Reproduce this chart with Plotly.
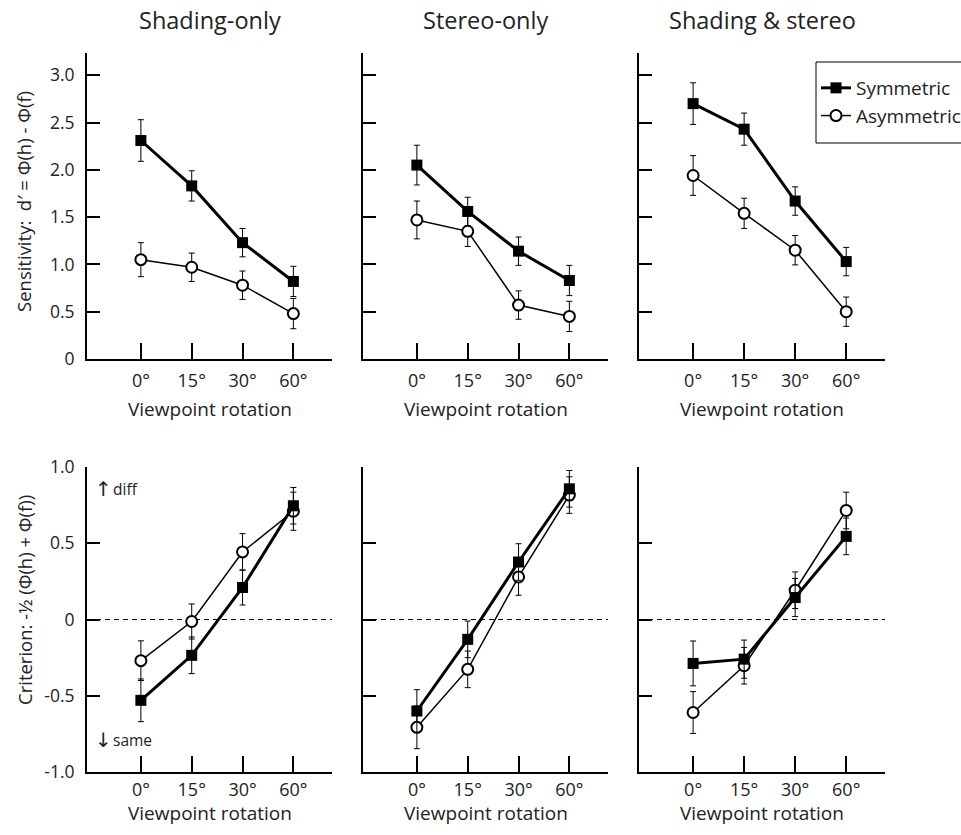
import plotly.graph_objects as go

# ---- data -------------------------------------------------------------
rotations = ["0°", "15°", "30°", "60°"]
conditions = ["Shading-only", "Stereo-only", "Shading & stereo"]

# Sensitivity d'
dprime_sym_shading = [2.31, 1.83, 1.23, 0.82]
dprime_sym_shading_err = [0.22, 0.16, 0.15, 0.16]
dprime_sym_stereo = [2.05, 1.56, 1.14, 0.83]
dprime_sym_stereo_err = [0.21, 0.15, 0.15, 0.16]
dprime_sym_both = [2.70, 2.43, 1.67, 1.03]
dprime_sym_both_err = [0.22, 0.17, 0.15, 0.15]

dprime_asym_shading = [1.05, 0.97, 0.78, 0.48]
dprime_asym_shading_err = [0.18, 0.15, 0.15, 0.16]
dprime_asym_stereo = [1.47, 1.35, 0.57, 0.45]
dprime_asym_stereo_err = [0.20, 0.16, 0.15, 0.16]
dprime_asym_both = [1.94, 1.54, 1.15, 0.50]
dprime_asym_both_err = [0.21, 0.16, 0.155, 0.155]

# Criterion c
crit_sym_shading = [-0.53, -0.235, 0.21, 0.746]
crit_sym_shading_err = [0.14, 0.12, 0.115, 0.12]
crit_sym_stereo = [-0.60, -0.13, 0.377, 0.857]
crit_sym_stereo_err = [0.14, 0.12, 0.12, 0.12]
crit_sym_both = [-0.288, -0.26, 0.144, 0.545]
crit_sym_both_err = [0.147, 0.125, 0.125, 0.12]

crit_asym_shading = [-0.27, -0.013, 0.443, 0.71]
crit_asym_shading_err = [0.13, 0.115, 0.12, 0.125]
crit_asym_stereo = [-0.707, -0.327, 0.279, 0.816]
crit_asym_stereo_err = [0.14, 0.12, 0.12, 0.12]
crit_asym_both = [-0.61, -0.303, 0.192, 0.715]
crit_asym_both_err = [0.137, 0.12, 0.12, 0.12]

dprime_ticks = [0, 0.5, 1.0, 1.5, 2.0, 2.5, 3.0]
dprime_ticktext = ["0", "0.5", "1.0", "1.5", "2.0", "2.5", "3.0"]
crit_ticks = [-1.0, -0.5, 0, 0.5, 1.0]
crit_ticktext = ["-1.0", "-0.5", "0", "0.5", "1.0"]

# ---- layout geometry --------------------------------------------------
W, H = 961, 835
FONT = "Open Sans"
TXT = "#222"
col_px = [(87, 332), (363, 608), (639, 885)]
row_px = [(53, 359), (467, 772)]  # top, bottom (pixels from top)

def xdom(c):
    a, b = col_px[c]
    return [a / W, b / W]

def ydom(r):
    a, b = row_px[r]
    return [1 - b / H, 1 - a / H]

def py(p):
    return 1 - p / H

fig = go.Figure()

panels = [
    # (row, col, sym, sym_err, asym, asym_err)
    (0, 0, dprime_sym_shading, dprime_sym_shading_err, dprime_asym_shading, dprime_asym_shading_err),
    (0, 1, dprime_sym_stereo, dprime_sym_stereo_err, dprime_asym_stereo, dprime_asym_stereo_err),
    (0, 2, dprime_sym_both, dprime_sym_both_err, dprime_asym_both, dprime_asym_both_err),
    (1, 0, crit_sym_shading, crit_sym_shading_err, crit_asym_shading, crit_asym_shading_err),
    (1, 1, crit_sym_stereo, crit_sym_stereo_err, crit_asym_stereo, crit_asym_stereo_err),
    (1, 2, crit_sym_both, crit_sym_both_err, crit_asym_both, crit_asym_both_err),
]

for i, (r, c, sym, sym_e, asym, asym_e) in enumerate(panels):
    n = i + 1
    xa = "x" if n == 1 else f"x{n}"
    ya = "y" if n == 1 else f"y{n}"
    first = n == 1
    fig.add_trace(go.Scatter(
        x=rotations, y=asym, xaxis=xa, yaxis=ya, name="Asymmetric",
        mode="lines+markers", legendgroup="asym", legendrank=2, showlegend=first,
        line=dict(color="black", width=1.5),
        marker=dict(symbol="circle", size=11, color="white",
                    line=dict(color="black", width=2)),
        error_y=dict(type="data", array=asym_e, color="black", thickness=1, width=3),
    ))
    fig.add_trace(go.Scatter(
        x=rotations, y=sym, xaxis=xa, yaxis=ya, name="Symmetric",
        mode="lines+markers", legendgroup="sym", legendrank=1, showlegend=first,
        line=dict(color="black", width=3),
        marker=dict(symbol="square", size=11, color="black",
                    line=dict(color="black", width=0)),
        error_y=dict(type="data", array=sym_e, color="black", thickness=1, width=3),
    ))

    xkey = "xaxis" if n == 1 else f"xaxis{n}"
    ykey = "yaxis" if n == 1 else f"yaxis{n}"
    fig.layout[xkey] = dict(
        domain=xdom(c), anchor=ya, type="category", range=[-1.06, 3.76],
        showline=True, linecolor="black", linewidth=2, mirror=False,
        ticks="inside", ticklen=16, tickwidth=1.5, tickcolor="black",
        showgrid=False, zeroline=False, automargin=False,
        tickfont=dict(family=FONT, size=18, color=TXT),
        ticklabelstandoff=4 if r == 0 else 0,
        fixedrange=True,
    )
    if r == 0:
        yrange, tv, tt = [0, 3.235], dprime_ticks, dprime_ticktext
    else:
        yrange, tv, tt = [-1.0, 1.0], crit_ticks, crit_ticktext
    fig.layout[ykey] = dict(
        domain=ydom(r), anchor=xa, range=yrange,
        tickvals=tv, ticktext=tt, showticklabels=(c == 0),
        showline=True, linecolor="black", linewidth=2,
        ticks="inside", ticklen=13, tickwidth=1.5, tickcolor="black",
        showgrid=False, zeroline=False, automargin=False,
        tickfont=dict(family=FONT, size=17.5, color=TXT),
        ticklabelstandoff=7,
        fixedrange=True,
    )

    # x-axis title under every panel
    title_y = 409 if r == 0 else 813
    fig.add_annotation(
        text="Viewpoint rotation", xref=f"{xa} domain", x=0.5, xanchor="center",
        yref="paper", y=py(title_y), yanchor="middle", showarrow=False,
        font=dict(family=FONT, size=19, color=TXT),
    )

    # dashed reference line at zero criterion
    if r == 1:
        fig.add_shape(
            type="line", xref=f"{xa} domain", x0=0, x1=1, yref=ya, y0=0, y1=0,
            line=dict(color="black", width=1, dash="5px,4px"), layer="below",
        )

# column titles
for c, name in enumerate(conditions):
    a, b = col_px[c]
    fig.add_annotation(
        text=name, xref="paper", x=(a + b) / 2 / W, xanchor="center",
        yref="paper", y=py(20), yanchor="middle", showarrow=False,
        font=dict(family=FONT, size=23.5, color=TXT),
    )

# y-axis titles
fig.add_annotation(
    text="Sensitivity:  d′ = Φ(h) - Φ(f)", textangle=-90,
    xref="paper", x=24 / W, yref="paper", y=py(202),
    xanchor="center", yanchor="middle", showarrow=False,
    font=dict(family=FONT, size=18.5, color=TXT),
)
fig.add_annotation(
    text="Criterion: -½ (Φ(h) + Φ(f))", textangle=-90,
    xref="paper", x=24 / W, yref="paper", y=py(600),
    xanchor="center", yanchor="middle", showarrow=False,
    font=dict(family=FONT, size=18.5, color=TXT),
)

# response-bias direction labels
for arrow, word, yc in (("↑", "diff", 489), ("↓", "same", 740)):
    fig.add_annotation(
        text=arrow, xref="paper", x=103 / W, yref="paper", y=py(yc),
        xanchor="center", yanchor="middle", showarrow=False,
        font=dict(family="DejaVu Sans", size=20, color=TXT),
    )
    fig.add_annotation(
        text=word, xref="paper", x=111 / W, yref="paper", y=py(yc),
        xanchor="left", yanchor="middle", showarrow=False,
        font=dict(family=FONT, size=15.5, color=TXT),
    )

# legend frame (runs off the right edge of the figure)
fig.add_shape(
    type="rect", xref="paper", yref="paper",
    x0=816 / W, x1=1.2, y0=py(143), y1=py(62),
    line=dict(color="black", width=1), fillcolor="white", layer="above",
)

fig.update_layout(
    width=W, height=H,
    margin=dict(l=0, r=0, t=0, b=0, pad=0, autoexpand=False),
    paper_bgcolor="white", plot_bgcolor="white",
    font=dict(family=FONT, color=TXT),
    showlegend=True,
    legend=dict(
        x=816 / W, y=py(69), xanchor="left", yanchor="top",
        bgcolor="rgba(0,0,0,0)", borderwidth=0,
        font=dict(family=FONT, size=19, color=TXT),
        tracegroupgap=10, traceorder="normal",
    ),
)

fig.write_html("out.html")
